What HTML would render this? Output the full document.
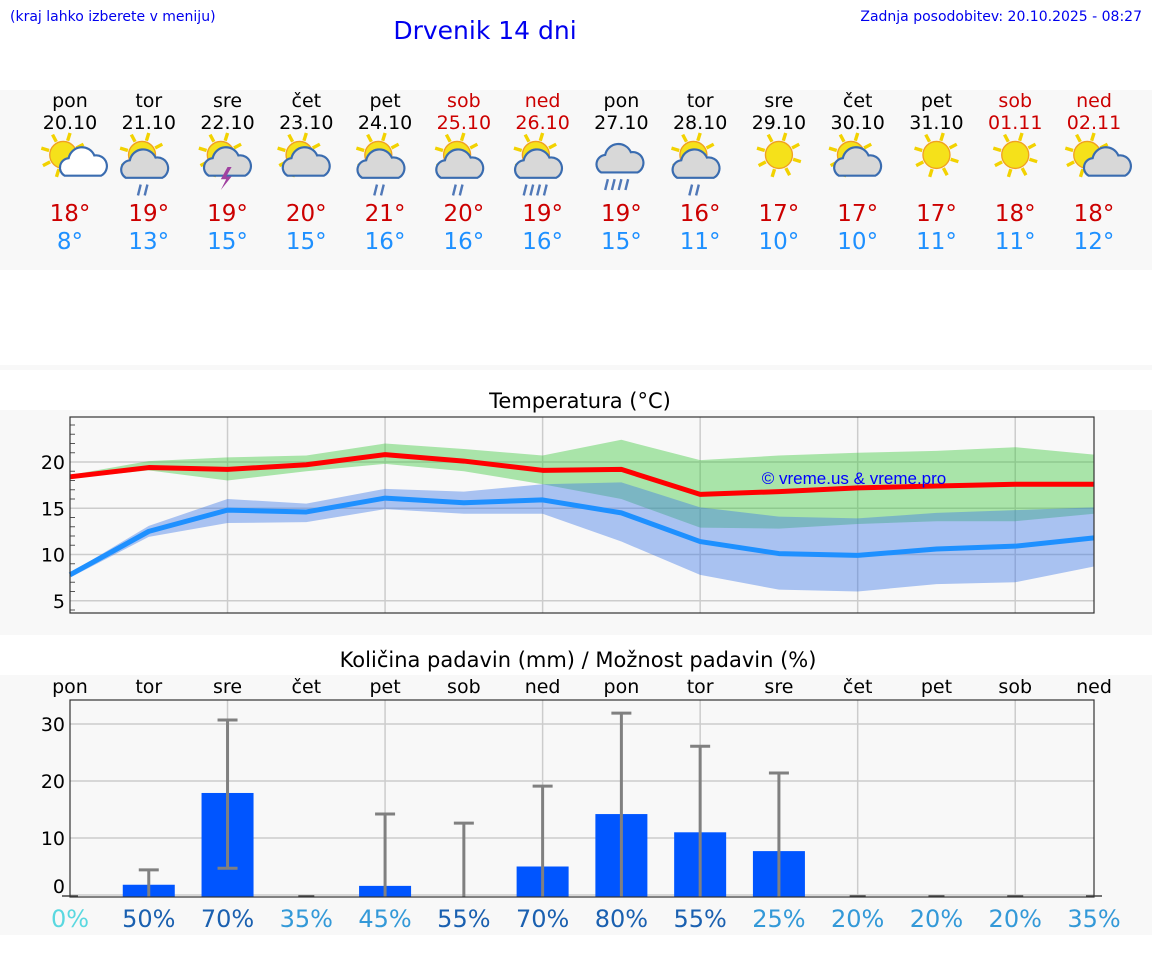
<!DOCTYPE html>
<html><head><meta charset="utf-8">
<style>
body{margin:0;background:#fff;width:1152px;height:975px;overflow:hidden;font-family:"DejaVu Sans","Liberation Sans",sans-serif;}
svg{display:block}
</style></head>
<body>
<svg id="main" width="1152" height="975" xmlns="http://www.w3.org/2000/svg" font-family="DejaVu Sans, Liberation Sans, sans-serif">
<text x="10" y="21" font-size="14" fill="#0000ee">(kraj lahko izberete v meniju)</text>
<text x="485" y="39" font-size="25" fill="#0000ee" text-anchor="middle">Drvenik 14 dni</text>
<text x="1142" y="21" font-size="14" fill="#0000ee" text-anchor="end">Zadnja posodobitev: 20.10.2025 - 08:27</text>
<rect x="0" y="90" width="1152" height="180" fill="#f8f8f8"/>
<rect x="0" y="365" width="1152" height="5" fill="#f8f8f8"/>
<rect x="0" y="410" width="1152" height="225" fill="#f8f8f8"/>
<rect x="0" y="675" width="1152" height="260" fill="#f8f8f8"/>
<g id="days"></g>
<text x="580" y="408" font-size="21" text-anchor="middle" fill="#000">Temperatura (°C)</text>
<g id="temp"></g>
<text x="578" y="667" font-size="21" text-anchor="middle" fill="#000">Količina padavin (mm) / Možnost padavin (%)</text>
<g id="precip"></g>
</svg>
<script>
const dayNames=["pon","tor","sre","čet","pet","sob","ned","pon","tor","sre","čet","pet","sob","ned"];
const dates=["20.10","21.10","22.10","23.10","24.10","25.10","26.10","27.10","28.10","29.10","30.10","31.10","01.11","02.11"];
const weekend=[0,0,0,0,0,1,1,0,0,0,0,0,1,1];
const maxT=[18,19,19,20,21,20,19,19,16,17,17,17,18,18];
const minT=[8,13,15,15,16,16,16,15,11,10,10,11,11,12];
const icons=["sc","scr","st","sc","scr","scr","scrr","crr","scr","s","sc","s","s","sc"];
const maxLine=[18.4,19.4,19.2,19.7,20.8,20.1,19.1,19.2,16.5,16.8,17.2,17.4,17.6,17.6];
const maxHigh=[18.6,20.1,20.5,20.7,22.0,21.4,20.7,22.4,20.2,20.7,21.0,21.2,21.6,20.8];
const maxLow=[18.2,19.1,18.0,19.0,19.8,19.0,17.6,16.0,12.9,12.8,13.3,13.6,13.6,14.4];
const minLine=[7.8,12.5,14.8,14.6,16.1,15.6,15.9,14.5,11.4,10.1,9.9,10.6,10.9,11.8];
const minHigh=[8.0,13.1,16.0,15.5,17.1,16.8,17.6,17.8,15.1,14.1,13.9,14.5,14.8,15.1];
const minLow=[7.5,11.9,13.4,13.5,14.9,14.4,14.4,11.4,7.8,6.2,6.0,6.8,7.0,8.7];
const tempTicks=[5,10,15,20];
const rain=[0,1.8,17.9,0,1.6,0,5.0,14.2,11.0,7.7,0,0,0,0];
const rainHigh=[0,4.4,30.7,0,14.2,12.6,19.1,31.9,26.1,21.4,0,0,0,0];
const rainLow=[0,0,4.7,0,0,0,0,0,0,0,0,0,0,0];
const prob=[0,50,70,35,45,55,70,80,55,25,20,20,20,35];
const rainTicks=[0,10,20,30];
const NS="http://www.w3.org/2000/svg";
function mk(p,t,a,txt){const e=document.createElementNS(NS,t);for(const k in a)e.setAttribute(k,a[k]);if(txt!==undefined)e.textContent=txt;p.appendChild(e);return e;}
const X0=70,X1=1094;
const xs=i=>X0+i*(X1-X0)/13;
const days=document.getElementById('days');
for(let i=0;i<14;i++){
 const x=xs(i),col=weekend[i]?"#cc0000":"#000";
 let e=mk(days,'text',{x:x,y:107,'font-size':19,'text-anchor':'middle',fill:col},dayNames[i]);
 
 e=mk(days,'text',{x:x,y:129,'font-size':19,'text-anchor':'middle',fill:col},dates[i]);
 
 const g=mk(days,'g',{transform:`translate(${x},163) scale(1.35) translate(${-x},-163)`});
 
 const ic=icons[i];
 const sx=ic==="s"?x:x-5, sy=157;
 if(ic!=="crr"){
  for(let k=0;k<8;k++){const a=k*Math.PI/4+0.3;mk(g,'line',{x1:sx+Math.cos(a)*11,y1:sy+Math.sin(a)*11,x2:sx+Math.cos(a)*17,y2:sy+Math.sin(a)*17,stroke:'#f2d200','stroke-width':2.5});}
  mk(g,'circle',{cx:sx,cy:sy,r:10,fill:'#f5e11a',stroke:'#f0a020','stroke-width':1});
 }
 if(ic!=="s"){
  const cx=ic==="crr"?x:x-2, cy=ic==="crr"?162:166, big=ic==="crr"||ic.startsWith("scr");
  const fill=ic==="sc"&&i==0?'#fff':'#d8d8d8';
  const s=big?1:0.8;
  const ox=(ic==="sc"&&i!=3&&i!=10)?10:0;
  mk(g,'path',{d:`M${cx+ox-15*s} ${cy+8*s} a7 7 0 0 1 3 -13 a10 10 0 0 1 19 -2 a8 8 0 0 1 5 15 z`,fill:fill,stroke:'#3a6cb0','stroke-width':1.6});
  if(ic.includes("r")){const n=ic.includes("rr")?4:2;for(let k=0;k<n;k++)mk(g,'line',{x1:cx-4+k*5-(n-2)*3,y1:cy+13,x2:cx-6+k*5-(n-2)*3,y2:cy+21,stroke:'#5078b8','stroke-width':1.8});}
  if(ic==="st")mk(g,'path',{d:`M${cx+2} ${cy} l-5 9 h4 l-4 8 l8 -10 h-4 l4 -7z`,fill:'#a040a0'});
 }
 e=mk(days,'text',{x:x,y:221,'font-size':23,'text-anchor':'middle',fill:'#cc0000'},maxT[i]+"°");
 
 e=mk(days,'text',{x:x,y:249,'font-size':23,'text-anchor':'middle',fill:'#1e90ff'},minT[i]+"°");
 
}
const T=document.getElementById('temp');
const TY0=417,TY1=613;
const ty=v=>462+(20-v)*9.25;
let r=mk(T,'rect',{x:X0,y:TY0,width:X1-X0,height:TY1-TY0,fill:'#f8f8f8'});

for(let i=2;i<13;i+=2){const l=mk(T,'line',{x1:xs(i),x2:xs(i),y1:TY0,y2:TY1,stroke:'#ccc','stroke-width':1.5});}
for(let v=4;v<=24;v++){const l=mk(T,'line',{x1:X0,x2:X0+5,y1:ty(v),y2:ty(v),stroke:'#555','stroke-width':1});}
tempTicks.forEach(v=>{
 let l=mk(T,'line',{x1:X0,x2:X1,y1:ty(v),y2:ty(v),stroke:'#ccc','stroke-width':1.5});
 
 const t=mk(T,'text',{x:X0-5,y:ty(v)+7,'font-size':19,'text-anchor':'end',fill:'#000'},v);
 
});
function band(hi,lo,col,name){
 let d="M"+hi.map((v,i)=>xs(i)+" "+ty(v)).join(" L");
 for(let i=13;i>=0;i--)d+=" L"+xs(i)+" "+ty(lo[i]);
 const p=mk(T,'path',{d:d+"Z",fill:col,'fill-opacity':0.42});
 
}
band(maxHigh,maxLow,'#3cc83c','max-temp-band');
band(minHigh,minLow,'#3c78e6','min-temp-band');
function line(arr,col,name){
 const p=mk(T,'polyline',{points:arr.map((v,i)=>xs(i)+","+ty(v)).join(" "),fill:'none',stroke:col,'stroke-width':5,'stroke-linejoin':'round'});
 
}
line(maxLine,'#ff0000','max-temp-line');
line(minLine,'#1e90ff','min-temp-line');
let w=mk(T,'text',{x:854,y:484,'font-size':17,'text-anchor':'middle',fill:'#0000ff','font-family':'Liberation Sans, sans-serif'},"© vreme.us & vreme.pro");

r=mk(T,'rect',{x:X0,y:TY0,width:X1-X0,height:TY1-TY0,fill:'none',stroke:'#333','stroke-width':1.2});

const P=document.getElementById('precip');
const PY0=700,PY1=897;
const py=v=>895-v*5.7;
for(let i=0;i<14;i++){const t=mk(P,'text',{x:xs(i),y:693,'font-size':19,'text-anchor':'middle',fill:'#000'},dayNames[i]);}
r=mk(P,'rect',{x:X0,y:PY0,width:X1-X0,height:PY1-PY0,fill:'#f8f8f8'});

for(let i=2;i<13;i+=2){const l=mk(P,'line',{x1:xs(i),x2:xs(i),y1:PY0,y2:PY1,stroke:'#ccc','stroke-width':1.5});}
rainTicks.forEach(v=>{
 const l=mk(P,'line',{x1:X0,x2:X1,y1:py(v),y2:py(v),stroke:'#ccc','stroke-width':1.5});
 
 const t=mk(P,'text',{x:X0-5,y:py(v)+(v===0?-2:7),'font-size':19,'text-anchor':'end',fill:'#000'},v);
 
});
for(let i=0;i<14;i++){
 const x=xs(i);
 if(rain[i]>0){
  let x0=x-26,x1=x+26; if(i===0)x0=X0; if(i===13)x1=X1;
  const b=mk(P,'rect',{x:x0,y:py(rain[i]),width:x1-x0,height:py(0)-py(rain[i])+2,fill:'#0055ff'});
  
 }
 const g=mk(P,'g',{stroke:rainHigh[i]>0?'#808080':'#444','stroke-width':3});
 
 if(rainHigh[i]>0){
  mk(g,'line',{x1:x,x2:x,y1:py(rainHigh[i]),y2:py(rainLow[i])+(rainLow[i]>0?0:2)});
  mk(g,'line',{x1:x-10,x2:x+10,y1:py(rainHigh[i]),y2:py(rainHigh[i])});
  if(rainLow[i]>0)mk(g,'line',{x1:x-10,x2:x+10,y1:py(rainLow[i]),y2:py(rainLow[i])});
 } else mk(g,'line',{x1:x-8,x2:x+8,y1:py(0)+1,y2:py(0)+1,'stroke-width':1.5});
 const c=prob[i]===0?'#5ad8e0':(prob[i]>=50?'#1a60b0':'#3399d8');
 const t=mk(P,'text',{x:x,y:927,'font-size':24,'text-anchor':'middle',fill:c},prob[i]+"%");
 
}
r=mk(P,'rect',{x:X0,y:PY0,width:X1-X0,height:PY1-PY0,fill:'none',stroke:'#333','stroke-width':1.2});

</script>
</body></html>
